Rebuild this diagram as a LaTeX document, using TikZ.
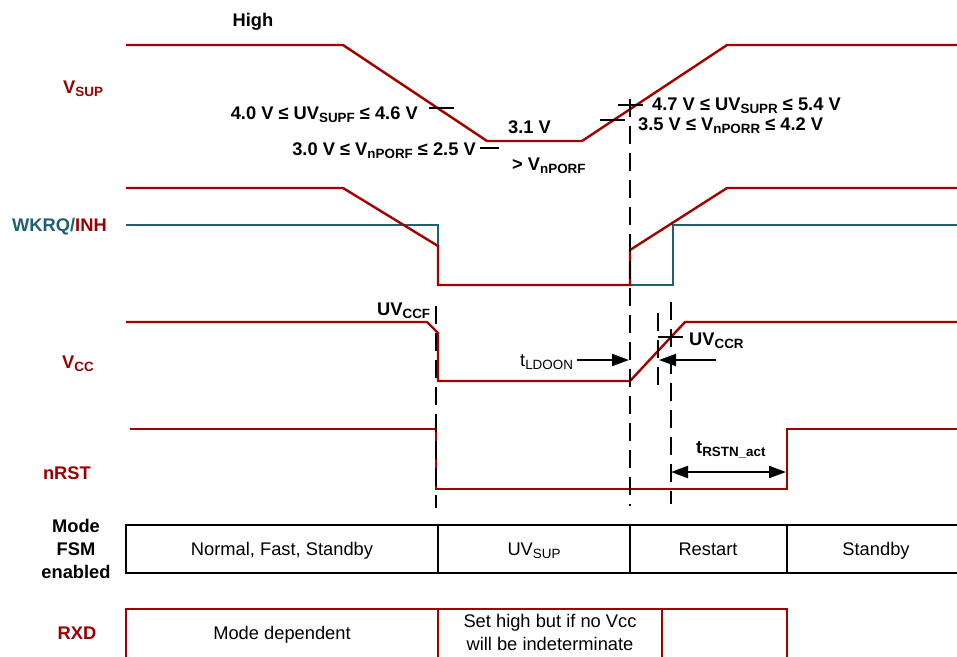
\documentclass[tikz,border=0pt]{standalone}
\usepackage{fontspec}
\setmainfont{Liberation Sans}
\usetikzlibrary{arrows.meta}
\definecolor{sigred}{RGB}{165,0,0}
\definecolor{lblred}{RGB}{155,0,0}
\definecolor{tealsig}{RGB}{28,96,114}
\newcommand{\sbs}[1]{\raisebox{-3.3pt}{\fontsize{13.4}{13.4}\selectfont #1}}
\begin{document}
\begin{tikzpicture}[x=1pt,y=-1pt,
  every node/.style={font=\fontsize{18.3}{22.5}\selectfont, inner sep=0pt},
  lbl/.style={font=\fontsize{18.3}{22.5}\selectfont\bfseries},
  sig/.style={draw=sigred, line width=2.4pt},
  wk/.style={draw=tealsig, line width=2.4pt},
  tickmark/.style={draw=black, line width=2.2pt},
  vdash/.style={draw=black, line width=2.5pt, dash pattern=on 18pt off 9pt},
  dimarrow/.style={draw=black, line width=2.2pt, -{Triangle[length=17pt,width=12pt]}},
  dimboth/.style={draw=black, line width=2.2pt, {Triangle[length=17pt,width=12pt]}-{Triangle[length=17pt,width=12pt]}},
  cell/.style={draw=black, line width=2.2pt},
  rcell/.style={draw=sigred, line width=2.2pt}]
\useasboundingbox (0,0) rectangle (957,656);

% ---------- left labels ----------
\node[lbl, anchor=base] (high) at (253,26) {High};
\node[lbl, anchor=base west, text=lblred] (vsup) at (63,93) {V\sbs{SUP}};
\node[lbl, anchor=base west] (wkrq) at (12,231) {\color{tealsig}WKRQ/\color{lblred}INH};
\node[lbl, anchor=base west, text=lblred] (vcc) at (62,368) {V\sbs{CC}};
\node[lbl, anchor=base east, text=lblred] (nrst) at (91,479) {nRST};
\node[lbl, align=center, font=\fontsize{18.3}{23}\selectfont\bfseries] (fsm) at (76,549) {Mode\\FSM\\enabled};
\node[lbl, anchor=base, text=lblred] (rxd) at (77,639) {RXD};

% ---------- VSUP ----------
\draw[sig] (126,45) -- (343,45) -- (487,141) -- (582,141) -- (727,45) -- (957,45);
\draw[tickmark] (429,108) -- (454,108);
\draw[tickmark] (480,148) -- (499,148);
\draw[tickmark] (600,120) -- (625,120);
\draw[tickmark] (618,105) -- (643,105);
\node[lbl, anchor=base east] (uvsupf) at (418,119) {4.0 V ≤ UV\sbs{SUPF} ≤ 4.6 V};
\node[lbl, anchor=base east] (vnporf) at (476,155) {3.0 V ≤ V\sbs{nPORF} ≤ 2.5 V};
\node[lbl, anchor=base west] (v31) at (508,133) {3.1 V};
\node[lbl, anchor=base west] (gtv) at (512,170) {> V\sbs{nPORF}};
\node[lbl, anchor=base west] (uvsupr) at (652,110) {4.7 V ≤ UV\sbs{SUPR} ≤ 5.4 V};
\node[lbl, anchor=base west] (vnporr) at (638,130) {3.5 V ≤ V\sbs{nPORR} ≤ 4.2 V};

% ---------- WKRQ / INH ----------
\draw[wk] (126,225) -- (438,225) -- (438,285) -- (673,285) -- (673,225) -- (957,225);
\draw[sig] (126,188) -- (343,188) -- (438,246) -- (438,285) -- (630,285) -- (630,250) -- (727,188) -- (957,188);

% ---------- VCC ----------
\draw[sig] (126,322) -- (427,322) -- (438,333) -- (438,381) -- (630,381) -- (685,322) -- (957,322);
\draw[tickmark] (658,337) -- (683,337);
\node[lbl, anchor=base west] (uvccf) at (377,315) {UV\sbs{CCF}};
\node[anchor=base west] (tldoon) at (520,366) {t\sbs{LDOON}};
\node[lbl, anchor=base west] (uvccr) at (689,345) {UV\sbs{CCR}};
\coordinate (ldA) at (577,360);
\coordinate (ldB) at (629,360);
\draw[dimarrow] (ldA) -- (ldB);
\coordinate (ccA) at (716,360);
\coordinate (ccB) at (659,360);
\draw[dimarrow] (ccA) -- (ccB);

% ---------- nRST ----------
\draw[sig] (130,429) -- (436,429) -- (436,489) -- (787,489) -- (787,429) -- (957,429);
\node[lbl, anchor=base west] (trstn) at (696,453) {t\sbs{RSTN\_act}};
\coordinate (rsA) at (671,472);
\coordinate (rsB) at (786,472);
\draw[dimboth] (rsA) -- (rsB);

% ---------- dashed markers ----------
\draw[vdash] (436,306) -- (436,508);
\draw[vdash] (630,99) -- (630,506);
\draw[vdash] (658,313) -- (658,392);
\draw[vdash] (671,302) -- (671,504);

% ---------- Mode FSM table ----------
\draw[cell] (965,525) -- (126,525) -- (126,573) -- (965,573);
\draw[cell] (438,525) -- (438,573);
\draw[cell] (630,525) -- (630,573);
\draw[cell] (787,525) -- (787,573);
\node[anchor=base] (mnorm) at (282,555) {Normal, Fast, Standby};
\node[anchor=base] (muv) at (534,555) {UV\sbs{SUP}};
\node[anchor=base] (mrest) at (708,555) {Restart};
\node[anchor=base] (mstby) at (876,555) {Standby};

% ---------- RXD ----------
\draw[rcell] (126,670) -- (126,609) -- (787,609) -- (787,670);
\draw[rcell] (438,609) -- (438,670);
\draw[rcell] (662,609) -- (662,670);
\node[anchor=base] (rmode) at (282,639) {Mode dependent};
\node[align=center] (rset) at (550,632.5) {Set high but if no Vcc\\will be indeterminate};
\end{tikzpicture}
\end{document}
